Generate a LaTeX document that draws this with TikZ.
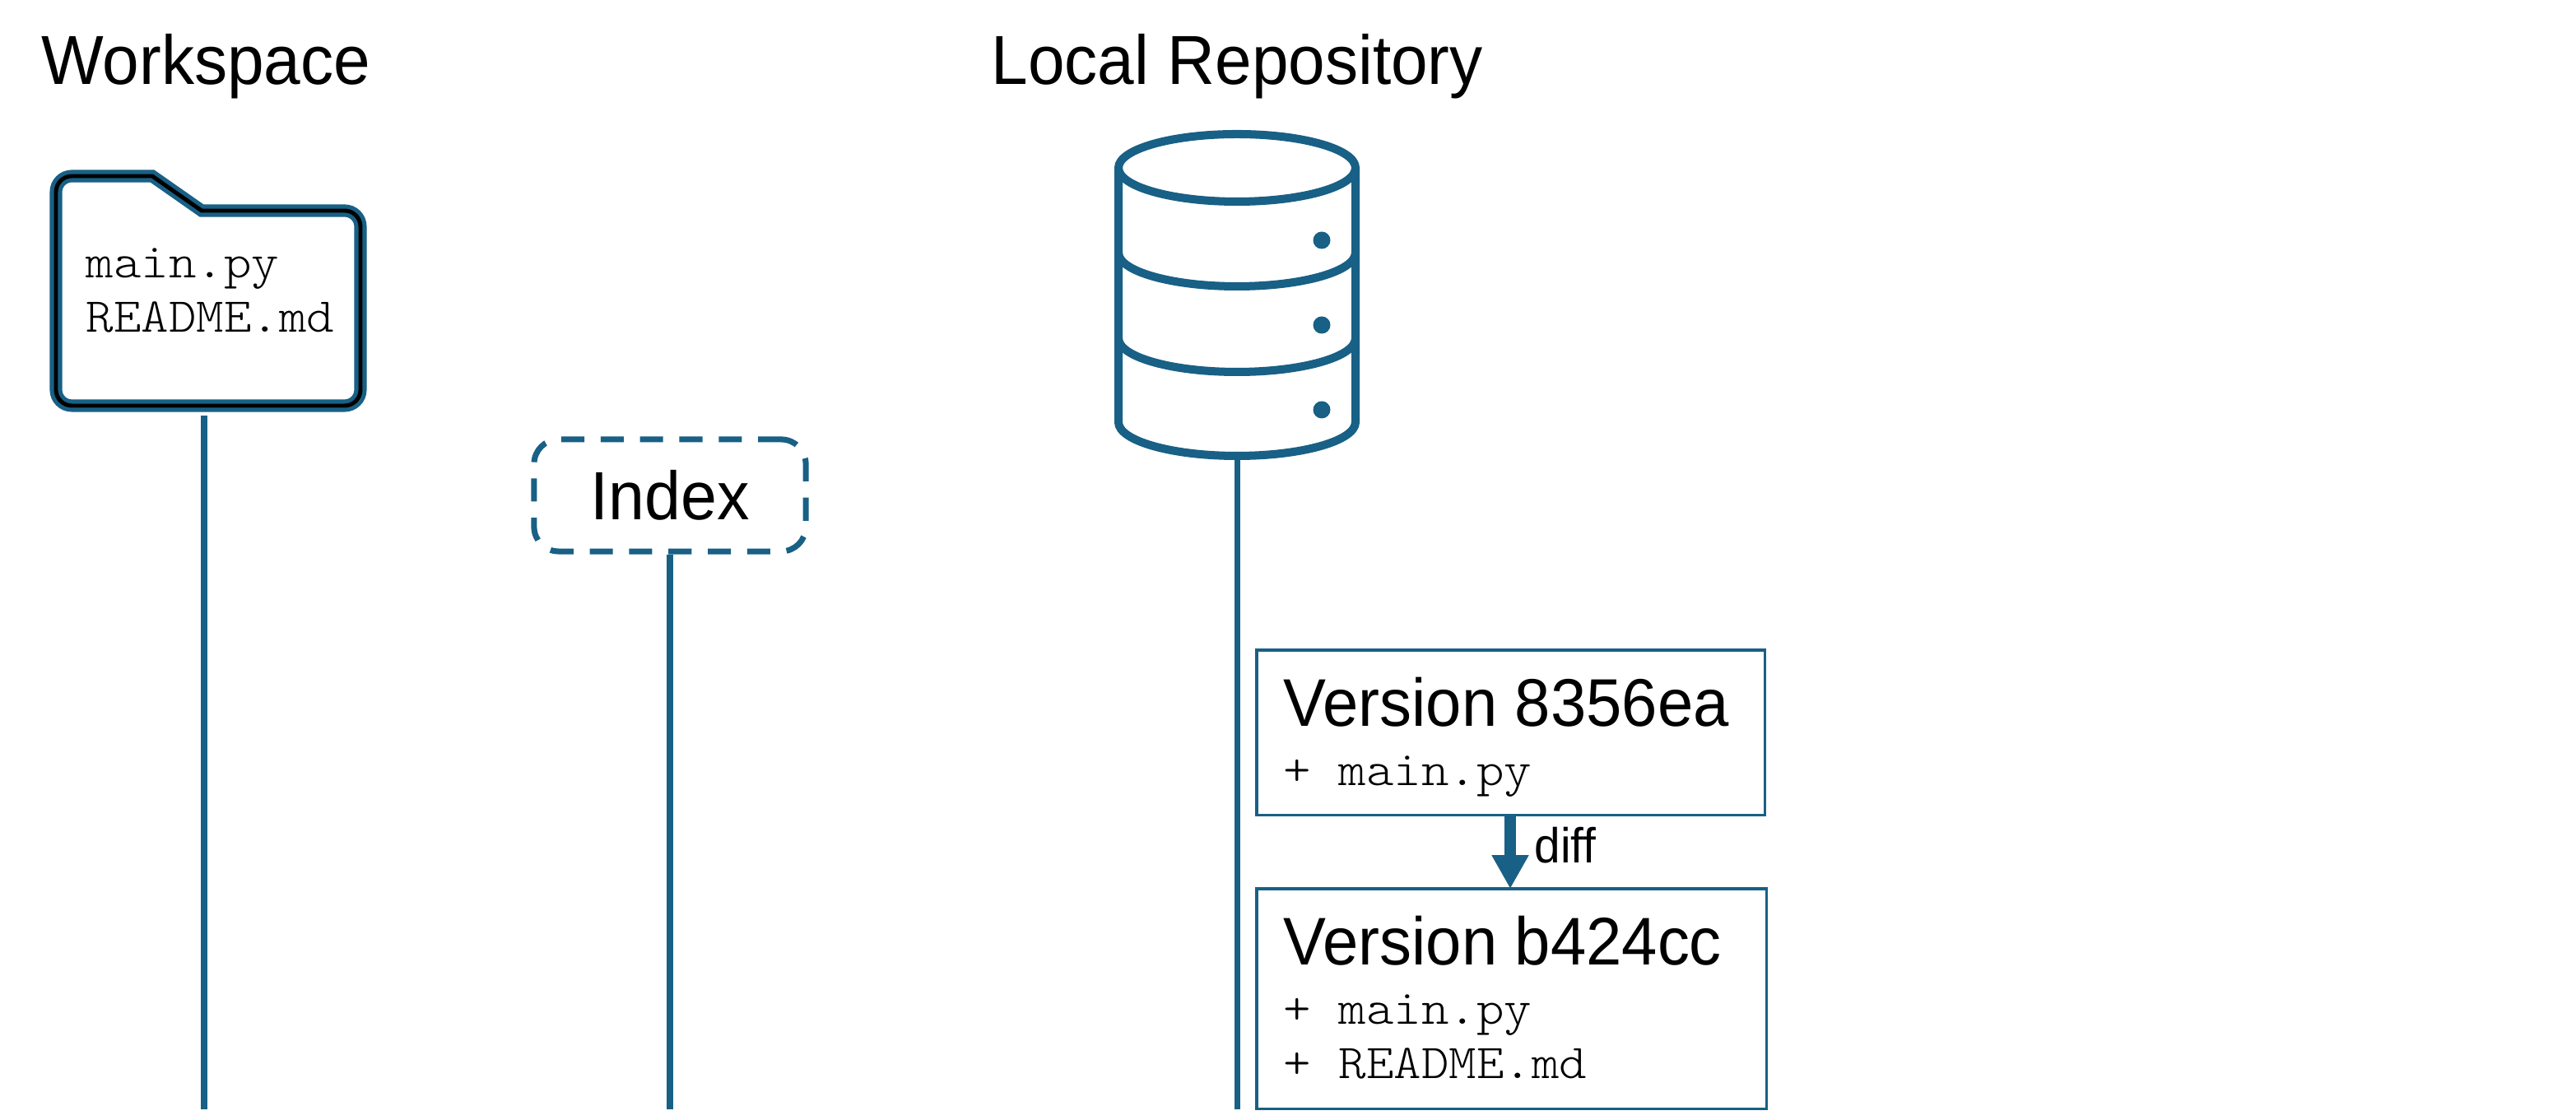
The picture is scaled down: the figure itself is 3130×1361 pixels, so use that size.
\documentclass[tikz,border=0pt]{standalone}
\usepackage{fontspec}
\setmainfont[FakeStretch=0.95]{Liberation Sans}
\setmonofont[FakeStretch=1.08]{Latin Modern Mono Light}
\usetikzlibrary{arrows.meta}
\definecolor{gitblue}{HTML}{186085}
\tikzset{
  lifeline/.style={gitblue,line width=2pt},
  heading/.style={anchor=base west,inner sep=0pt,font=\fontsize{24}{28}\selectfont},
  title/.style={anchor=base west,inner sep=0pt,font=\fontsize{23.3}{28}\selectfont},
  filename/.style={anchor=base west,inner sep=0pt,font=\ttfamily\fontsize{16.8}{20}\selectfont},
  versionbox/.style={draw=gitblue,line width=0.9pt,anchor=north west,inner sep=0pt,outer sep=0pt}
}
\begin{document}
\begin{tikzpicture}[x=0.01cm,y=0.01cm]
\useasboundingbox (0,0) rectangle (3130,1361);
\node[heading] (wshead) at (50,1258) {Workspace};
\node[heading] (repohead) at (1204,1258) {Local Repository};
% folder
\draw[gitblue,line width=4.3pt] (68,1000) [rounded corners=5.5pt] -- (68,1147) [sharp corners] -- (185,1147) -- (245,1105) [rounded corners=5.5pt] -- (438,1105) -- (438,868) -- (68,868) -- cycle;
\draw[black,line width=1.4pt] (68,1000) [rounded corners=5.5pt] -- (68,1147) [sharp corners] -- (185,1147) -- (245,1105) [rounded corners=5.5pt] -- (438,1105) -- (438,868) -- (68,868) -- cycle;
\node[filename] (wsmain) at (104,1023) {main.py};
\node[filename] (wsreadme) at (104,957) {README.md};
\coordinate (wstop) at (248,856);
\coordinate (wsend) at (248,13);
\draw[lifeline] (wstop)--(wsend);
% index
\node[draw=gitblue,line width=2pt,dash pattern=on 8pt off 5.6pt,rounded corners=8.5pt,minimum width=3.3cm,minimum height=1.36cm,inner sep=0pt,font=\fontsize{23.6}{28}\selectfont] (index) at (814,759) {Index};
\coordinate (indexend) at (814,13);
\draw[lifeline] (index.south)--(indexend);
% repository
\begin{scope}[gitblue,line width=2.85pt]
\draw (1359,1157) -- (1359,848) arc (180:360:144 and 41) -- (1647,1157);
\draw (1503,1157) ellipse (144 and 41);
\draw (1359,1054) arc (180:360:144 and 41);
\draw (1359,950) arc (180:360:144 and 41);
\end{scope}
\foreach \y in {1069,966,863}
    \fill[gitblue] (1606,\y) circle (10.5);
\coordinate (repotop) at (1503,803);
\coordinate (repoend) at (1503,13);
\draw[lifeline] (repotop)--(repoend);
% versions
\node[versionbox,minimum width=6.17cm,minimum height=2cm] (first) at (1527,571) {};
\node[versionbox,minimum width=6.19cm,minimum height=2.67cm] (second) at (1527,281) {};
\draw[gitblue,line width=4pt,-{Triangle[length=11.6pt,width=12pt]}] (first.south-|1835,0)--(second.north-|1835,0);
\node[title] (firstname) at (1559,478) {Version 8356ea};
\node[filename] (firstfile) at (1559,406) {+ main.py};
\node[anchor=base west,inner sep=0pt,font=\fontsize{17}{20}\selectfont] (difflabel) at (1864,312) {diff};
\node[title] (secondname) at (1559,188) {Version b424cc};
\node[filename] (secondmain) at (1559,116) {+ main.py};
\node[filename] (secondreadme) at (1559,50) {+ README.md};
\end{tikzpicture}
\end{document}
